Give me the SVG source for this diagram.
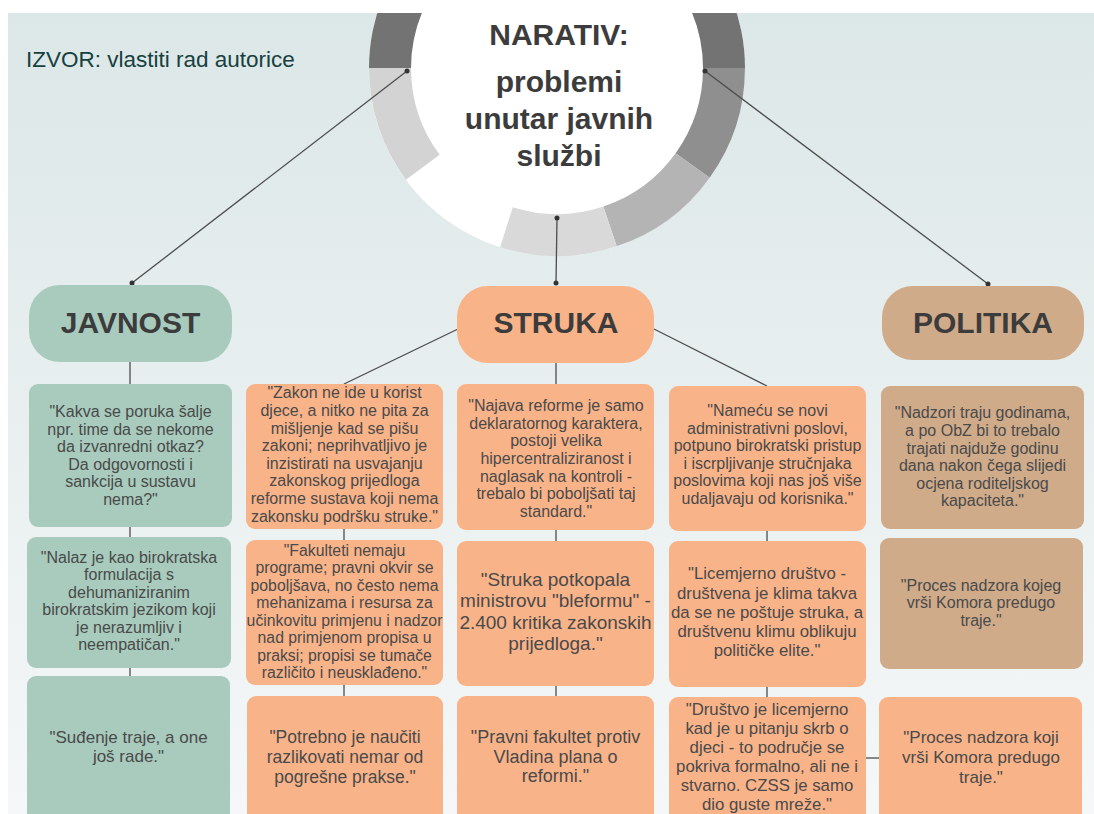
<svg xmlns="http://www.w3.org/2000/svg" width="1094" height="814" viewBox="0 0 1094 814">
<defs>
<linearGradient id="bg" x1="0" y1="0" x2="0" y2="1">
<stop offset="0" stop-color="#dce7e7"/>
<stop offset="1" stop-color="#f5f7f8"/>
</linearGradient>
<style>
.hdr{font-family:"Liberation Sans",Arial,sans-serif;font-weight:bold;font-size:30px;fill:#3c3c3c;text-anchor:middle}
.t{font-family:"Liberation Sans",Arial,sans-serif;fill:#4a4a4a;text-anchor:middle}
.jav{fill:#a8cbbd}
.str{fill:#f9b389}
.pol{fill:#cfab8a}
.ln{stroke:#4d4d4d;stroke-width:1.3;fill:none}
.dot{fill:#333}
</style>
</defs>
<rect x="0" y="0" width="1094" height="814" fill="#ffffff"/>
<rect x="8" y="13" width="1086" height="801" fill="url(#bg)"/>

<g id="center">
<circle cx="557" cy="68" r="188" fill="#ffffff"/>
<path d="M745,68 A188,188 0 0 0 369,68 L411,68 A146,146 0 0 1 703,68 Z" fill="#737373"/>
<path d="M745,68 A188,188 0 0 1 709.7,177.7 L675.6,153.2 A146,146 0 0 0 703,68 Z" fill="#8f8f8f"/>
<path d="M709.7,177.7 A188,188 0 0 1 616.7,246.3 L603.3,206.5 A146,146 0 0 0 675.6,153.2 Z" fill="#b4b4b4"/>
<path d="M616.7,246.3 A188,188 0 0 1 500.1,247.2 L512.8,207.2 A146,146 0 0 0 603.3,206.5 Z" fill="#d9d9d9"/>
<path d="M405.9,179.8 A188,188 0 0 1 369,68 L411,68 A146,146 0 0 0 439.6,154.8 Z" fill="#d3d3d3"/>
<rect x="360" y="0" width="400" height="13" fill="#ffffff"/>
<text class="hdr" x="559" y="45">NARATIV:</text>
<text class="hdr" x="559" y="92" font-size="29.5">problemi</text>
<text class="hdr" x="559" y="129" font-size="29.5">unutar javnih</text>
<text class="hdr" x="559" y="166" font-size="29.5">službi</text>
</g>

<g id="source">
<text x="26" y="67" font-family="Liberation Sans, Arial, sans-serif" font-size="22.5" fill="#17403f">IZVOR: vlastiti rad autorice</text>
</g>

<g id="connectors">
<line class="ln" x1="407" y1="71" x2="132" y2="283"/>
<line class="ln" x1="557" y1="218" x2="556" y2="283"/>
<line class="ln" x1="705" y1="71" x2="988" y2="284"/>
<circle class="dot" cx="407" cy="71" r="2.5"/>
<circle class="dot" cx="132" cy="283" r="2.5"/>
<circle class="dot" cx="557" cy="218" r="2.5"/>
<circle class="dot" cx="556" cy="283" r="2.5"/>
<circle class="dot" cx="705" cy="71" r="2.5"/>
<circle class="dot" cx="988" cy="284" r="2.5"/>
<line class="ln" x1="130" y1="362" x2="130" y2="384"/>
<line class="ln" x1="130" y1="527" x2="130" y2="537"/>
<line class="ln" x1="130" y1="668" x2="130" y2="676"/>
<line class="ln" x1="458" y1="329" x2="344" y2="384"/>
<line class="ln" x1="344" y1="529" x2="344" y2="540"/>
<line class="ln" x1="344" y1="685" x2="344" y2="696"/>
<line class="ln" x1="556" y1="363" x2="556" y2="384"/>
<line class="ln" x1="556" y1="530" x2="556" y2="541"/>
<line class="ln" x1="556" y1="686" x2="556" y2="696"/>
<line class="ln" x1="654" y1="329" x2="767" y2="386"/>
<line class="ln" x1="767" y1="531" x2="767" y2="541"/>
<line class="ln" x1="767" y1="687" x2="767" y2="697"/>
<line class="ln" x1="866" y1="758" x2="879" y2="758"/>
</g>

<g id="javnost">
<rect class="jav" x="29" y="285" width="203" height="77" rx="31"/>
<text class="hdr" x="130.5" y="333">JAVNOST</text>
</g>
<g id="struka">
<rect class="str" x="457" y="286" width="197" height="77" rx="31"/>
<text class="hdr" x="556" y="333">STRUKA</text>
</g>
<g id="politika">
<rect class="pol" x="882" y="286" width="202" height="74" rx="31"/>
<text class="hdr" x="983" y="333">POLITIKA</text>
</g>

<g id="a1">
<rect class="jav" x="29" y="384" width="203" height="143" rx="9"/>
<text class="t" font-size="16"><tspan x="130.5" y="417.3">"Kakva se poruka šalje</tspan><tspan x="130.5" dy="17.5">npr. time da se nekome</tspan><tspan x="130.5" dy="17.5">da izvanredni otkaz?</tspan><tspan x="130.5" dy="17.5">Da odgovornosti i</tspan><tspan x="130.5" dy="17.5">sankcija u sustavu</tspan><tspan x="130.5" dy="17.5">nema?"</tspan></text>
</g>
<g id="a2">
<rect class="jav" x="27" y="537" width="204" height="131" rx="9"/>
<text class="t" font-size="16"><tspan x="129" y="562.7">"Nalaz je kao birokratska</tspan><tspan x="129" dy="17.5">formulacija s</tspan><tspan x="129" dy="17.5">dehumaniziranim</tspan><tspan x="129" dy="17.5">birokratskim jezikom koji</tspan><tspan x="129" dy="17.5">je nerazumljiv i</tspan><tspan x="129" dy="17.5">neempatičan."</tspan></text>
</g>
<g id="a3">
<rect class="jav" x="27" y="676" width="203" height="150" rx="9"/>
<text class="t" font-size="17"><tspan x="128.5" y="743">"Suđenje traje, a one</tspan><tspan x="128.5" dy="18.5">još rade."</tspan></text>
</g>

<g id="b1">
<rect class="str" x="246" y="384" width="197" height="145" rx="9"/>
<text class="t" font-size="16"><tspan x="344.5" y="398.3">"Zakon ne ide u korist</tspan><tspan x="344.5" dy="17.6">djece, a nitko ne pita za</tspan><tspan x="344.5" dy="17.6">mišljenje kad se pišu</tspan><tspan x="344.5" dy="17.6">zakoni; neprihvatljivo je</tspan><tspan x="344.5" dy="17.6">inzistirati na usvajanju</tspan><tspan x="344.5" dy="17.6">zakonskog prijedloga</tspan><tspan x="344.5" dy="17.6">reforme sustava koji nema</tspan><tspan x="344.5" dy="17.6">zakonsku podršku struke."</tspan></text>
</g>
<g id="b2">
<rect class="str" x="246" y="540" width="197" height="145" rx="9"/>
<text class="t" font-size="15.8"><tspan x="344.5" y="556">"Fakulteti nemaju</tspan><tspan x="344.5" dy="17.47">programe; pravni okvir se</tspan><tspan x="344.5" dy="17.47">poboljšava, no često nema</tspan><tspan x="344.5" dy="17.47">mehanizama i resursa za</tspan><tspan x="344.5" dy="17.47">učinkovitu primjenu i nadzor</tspan><tspan x="344.5" dy="17.47">nad primjenom propisa u</tspan><tspan x="344.5" dy="17.47">praksi; propisi se tumače</tspan><tspan x="344.5" dy="17.47">različito i neusklađeno."</tspan></text>
</g>
<g id="b3">
<rect class="str" x="247" y="696" width="196" height="130" rx="9"/>
<text class="t" font-size="17.5"><tspan x="345" y="743.3">"Potrebno je naučiti</tspan><tspan x="345" dy="20">razlikovati nemar od</tspan><tspan x="345" dy="20">pogrešne prakse."</tspan></text>
</g>

<g id="c1">
<rect class="str" x="457" y="384" width="197" height="146" rx="9"/>
<text class="t" font-size="16"><tspan x="556" y="411">"Najava reforme je samo</tspan><tspan x="556" dy="17.67">deklaratornog karaktera,</tspan><tspan x="556" dy="17.67">postoji velika</tspan><tspan x="556" dy="17.67">hipercentraliziranost i</tspan><tspan x="556" dy="17.67">naglasak na kontroli -</tspan><tspan x="556" dy="17.67">trebalo bi poboljšati taj</tspan><tspan x="556" dy="17.67">standard."</tspan></text>
</g>
<g id="c2">
<rect class="str" x="457" y="541" width="197" height="145" rx="9"/>
<text class="t" font-size="19"><tspan x="555.5" y="585.6">"Struka potkopala</tspan><tspan x="555.5" dy="21.5">ministrovu "bleformu" -</tspan><tspan x="555.5" dy="21.5">2.400 kritika zakonskih</tspan><tspan x="555.5" dy="21.5">prijedloga."</tspan></text>
</g>
<g id="c3">
<rect class="str" x="457" y="696" width="197" height="130" rx="9"/>
<text class="t" font-size="18"><tspan x="555.5" y="743.3">"Pravni fakultet protiv</tspan><tspan x="555.5" dy="19.5">Vladina plana o</tspan><tspan x="555.5" dy="19.5">reformi."</tspan></text>
</g>

<g id="d1">
<rect class="str" x="669" y="386" width="197" height="145" rx="9"/>
<text class="t" font-size="16"><tspan x="767.5" y="416">"Nameću se novi</tspan><tspan x="767.5" dy="17.6">administrativni poslovi,</tspan><tspan x="767.5" dy="17.6">potpuno birokratski pristup</tspan><tspan x="767.5" dy="17.6">i iscrpljivanje stručnjaka</tspan><tspan x="767.5" dy="17.6">poslovima koji nas još više</tspan><tspan x="767.5" dy="17.6">udaljavaju od korisnika."</tspan></text>
</g>
<g id="d2">
<rect class="str" x="669" y="541" width="197" height="146" rx="9"/>
<text class="t" font-size="16.8"><tspan x="767" y="579.3">"Licemjerno društvo -</tspan><tspan x="767" dy="19.2">društvena je klima takva</tspan><tspan x="767" dy="19.2">da se ne poštuje struka, a</tspan><tspan x="767" dy="19.2">društvenu klimu oblikuju</tspan><tspan x="767" dy="19.2">političke elite."</tspan></text>
</g>
<g id="d3">
<rect class="str" x="669" y="697" width="197" height="130" rx="9"/>
<text class="t" font-size="16.8"><tspan x="767" y="715">"Društvo je licemjerno</tspan><tspan x="767" dy="19">kad je u pitanju skrb o</tspan><tspan x="767" dy="19">djeci - to područje se</tspan><tspan x="767" dy="19">pokriva formalno, ali ne i</tspan><tspan x="767" dy="19">stvarno. CZSS je samo</tspan><tspan x="767" dy="19">dio guste mreže."</tspan></text>
</g>

<g id="e1">
<rect class="pol" x="881" y="386" width="203" height="143" rx="9"/>
<text class="t" font-size="16"><tspan x="982.5" y="418.3">"Nadzori traju godinama,</tspan><tspan x="982.5" dy="17.6">a po ObZ bi to trebalo</tspan><tspan x="982.5" dy="17.6">trajati najduže godinu</tspan><tspan x="982.5" dy="17.6">dana nakon čega slijedi</tspan><tspan x="982.5" dy="17.6">ocjena roditeljskog</tspan><tspan x="982.5" dy="17.6">kapaciteta."</tspan></text>
</g>
<g id="e2">
<rect class="pol" x="880" y="538" width="203" height="131" rx="9"/>
<text class="t" font-size="16"><tspan x="981" y="590.7">"Proces nadzora kojeg</tspan><tspan x="981" dy="17.5">vrši Komora predugo</tspan><tspan x="981" dy="17.5">traje."</tspan></text>
</g>
<g id="e3">
<rect class="str" x="879" y="697" width="203" height="130" rx="9"/>
<text class="t" font-size="17"><tspan x="981" y="743.3">"Proces nadzora koji</tspan><tspan x="981" dy="19.7">vrši Komora predugo</tspan><tspan x="981" dy="19.7">traje."</tspan></text>
</g>
</svg>
